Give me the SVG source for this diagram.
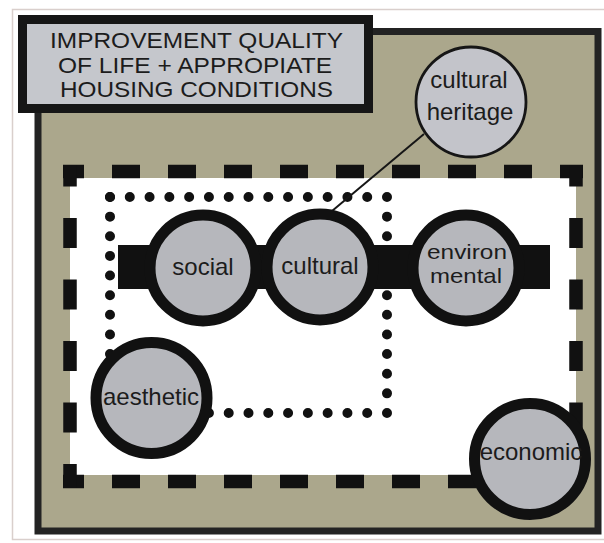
<svg xmlns="http://www.w3.org/2000/svg" width="604" height="543" viewBox="0 0 604 543">
  <style>
    .lbl { font-family: "Liberation Sans", Arial, sans-serif; font-size: 24px; fill: #1c1c1c; text-anchor: middle; }
    .ttl { font-size: 21.5px; }
    .two { font-size: 21px; }
    .node { fill: #b6b7bc; stroke: #111; stroke-width: 11; }
    .dash { fill: none; stroke: #111; stroke-width: 13.5; }
    .dot { fill: none; stroke: #111; stroke-width: 10; stroke-linecap: round; }
  </style>
  <rect x="0" y="0" width="604" height="543" fill="#ffffff"/>
  <rect x="12.5" y="9.5" width="600" height="530" fill="none" stroke="#d9cfcc" stroke-width="1.5"/>

  <g id="frame">
    <rect x="38" y="31.5" width="560" height="499.5" fill="#aba78c" stroke="#232323" stroke-width="7"/>
  </g>

  <g id="boundary-dashed">
    <rect x="70" y="178" width="506" height="297" fill="#ffffff"/>
    <path class="dash" d="M63,171.5 H583 M63,481.5 H583" stroke-dasharray="28 28" stroke-dashoffset="7"/>
    <path class="dash" d="M70,165 V488 M576,165 V488" stroke-dasharray="30 31.5" stroke-dashoffset="8.5"/>
  </g>

  <g id="boundary-dotted">
    <path class="dot" d="M110,197 H387 M110,413 H387" stroke-dasharray="0 19.786"/>
    <path class="dot" d="M110,197 V413 M387,197 V413" stroke-dasharray="0 19.636"/>
  </g>

  <g id="bar">
    <rect x="118" y="245" width="432" height="44" fill="#111"/>
  </g>

  <g id="title">
    <rect x="22.5" y="19.5" width="346" height="89" fill="#c5c7cc" stroke="#161616" stroke-width="9"/>
    <text class="lbl ttl" x="196.5" y="48" textLength="293" lengthAdjust="spacingAndGlyphs">IMPROVEMENT QUALITY</text>
    <text class="lbl ttl" x="195" y="72.5" textLength="274" lengthAdjust="spacingAndGlyphs">OF LIFE + APPROPIATE</text>
    <text class="lbl ttl" x="196.5" y="97" textLength="273" lengthAdjust="spacingAndGlyphs">HOUSING CONDITIONS</text>
  </g>

  <g id="connectors">
    <line x1="424" y1="134" x2="332" y2="211" stroke="#161616" stroke-width="2"/>
  </g>

  <g id="cultural-heritage">
    <circle cx="471" cy="102" r="55" fill="#c3c4ca" stroke="#161616" stroke-width="2.8"/>
    <text class="lbl" x="469" y="88">cultural</text>
    <text class="lbl" x="470" y="120">heritage</text>
  </g>

  <g id="social">
    <circle class="node" cx="203" cy="268" r="53"/>
    <text class="lbl" x="203" y="275">social</text>
  </g>

  <g id="cultural">
    <circle class="node" cx="320" cy="267" r="53"/>
    <text class="lbl" x="320" y="274">cultural</text>
  </g>

  <g id="environmental">
    <circle class="node" cx="466" cy="268" r="53"/>
    <text class="lbl two" x="467" y="259" textLength="80" lengthAdjust="spacingAndGlyphs">environ</text>
    <text class="lbl two" x="466" y="283" textLength="72" lengthAdjust="spacingAndGlyphs">mental</text>
  </g>

  <g id="aesthetic">
    <circle class="node" cx="151.5" cy="398" r="55.5"/>
    <text class="lbl" x="151" y="405">aesthetic</text>
  </g>

  <g id="economic">
    <circle class="node" cx="530" cy="459" r="55.5"/>
    <text class="lbl" x="531" y="460">economic</text>
  </g>
</svg>
